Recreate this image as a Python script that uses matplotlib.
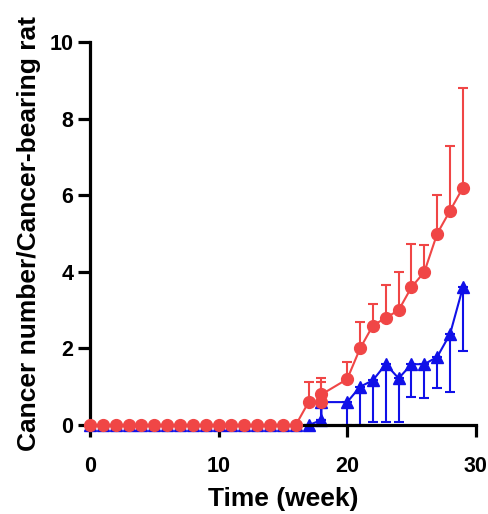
# Cancer number per cancer-bearing rat over time, two groups with one-sided error bars

import numpy as np
import matplotlib.pyplot as plt

# week 18 shows up twice in both series
weeks_red = [0, 1, 2, 3, 4, 5, 6, 7, 8, 9, 10, 11, 12, 13, 14, 15, 16,
             17, 18, 18, 20, 21, 22, 23, 24, 25, 26, 27, 28, 29]
mean_red = [0] * 17 + [0.6, 0.6, 0.8, 1.2, 2.0, 2.6, 2.8, 3.0, 3.6, 4.0, 5.0, 5.6, 6.2]
upper_red = [0] * 17 + [0.53, 0.53, 0.44, 0.44, 0.7, 0.55, 0.85, 1.0, 1.13, 0.7, 1.0, 1.68, 2.6]

weeks_blue = [0, 1, 2, 3, 4, 5, 6, 7, 8, 9, 10, 11, 12, 13, 14, 15, 16,
              17, 18, 18, 20, 21, 22, 23, 24, 25, 26, 27, 28, 29]
mean_blue = [0] * 17 + [0, 0.13, 0.6, 0.6, 1.0, 1.17, 1.59, 1.22, 1.59, 1.59, 1.78, 2.38, 3.6]
lower_blue = [0] * 17 + [0, 0, 0.47, 0.6, 1.0, 1.08, 1.52, 1.13, 0.85, 0.87, 0.81, 1.51, 1.67]

RED = "#F04646"
BLUE = "#1010E8"

plt.rcParams.update({
    "font.family": "sans-serif",
    "font.sans-serif": ["Liberation Sans", "DejaVu Sans"],
    "font.weight": "bold",
    "axes.linewidth": 2.3,
})

fig = plt.figure(figsize=(4.89, 5.14), dpi=100)
ax = fig.add_axes([0.184, 0.173, 0.789, 0.745])

ax.errorbar(weeks_blue, mean_blue, yerr=[lower_blue, [0] * len(lower_blue)],
            color=BLUE, marker="^", ms=9, lw=1.5, elinewidth=1.5,
            capsize=3.5, capthick=1.5, clip_on=False, zorder=2)
ax.errorbar(weeks_red, mean_red, yerr=[[0] * len(upper_red), upper_red],
            color=RED, marker="o", ms=8.5, lw=1.5, elinewidth=1.5,
            capsize=3.5, capthick=1.5, clip_on=False, zorder=3)

ax.set_xlim(0, 30)
ax.set_ylim(0, 10)
ax.set_xticks([0, 10, 20, 30])
ax.set_yticks([0, 2, 4, 6, 8, 10])
ax.spines[["top", "right"]].set_visible(False)
ax.tick_params(length=8.5, width=2.3, labelsize=15.5)
ax.tick_params(axis="x", pad=14)
ax.tick_params(axis="y", pad=3.5)
for lab in ax.get_xticklabels() + ax.get_yticklabels():
    lab.set_fontweight("bold")
ax.set_xlabel("Time (week)", fontsize=19, fontweight="bold", labelpad=7)
ax.set_ylabel("Cancer number/Cancer-bearing rat", fontsize=19, fontweight="bold", labelpad=6)

fig.savefig("out.png", dpi=100)
